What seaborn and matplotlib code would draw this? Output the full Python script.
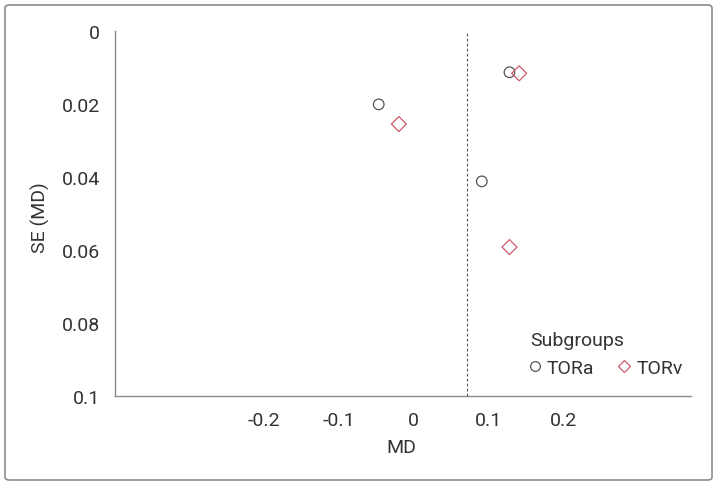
import matplotlib
matplotlib.use("Agg")
import matplotlib.pyplot as plt
from matplotlib.lines import Line2D
from matplotlib.patches import FancyBboxPatch
import seaborn as sns
import pandas as pd

groups = ["TORa", "TORa", "TORa", "TORv", "TORv", "TORv"]
md = [0.128, -0.047, 0.091, 0.141, -0.020, 0.128]
se = [0.0113, 0.0201, 0.0412, 0.0116, 0.0255, 0.0592]
pooled_md = 0.071
x_ticks = [-0.2, -0.1, 0, 0.1, 0.2]
x_tick_labels = ["-0.2", "-0.1", "0", "0.1", "0.2"]
y_ticks = [0, 0.02, 0.04, 0.06, 0.08, 0.1]
y_tick_labels = ["0", "0.02", "0.04", "0.06", "0.08", "0.1"]

df = pd.DataFrame({"MD": md, "SE": se, "Subgroups": groups})

sns.set_style("white")
plt.rcParams["font.family"] = ["Roboto", "DejaVu Sans"]
text_col = "#333333"
spine_col = "#8a8a8a"
colors = {"TORa": "#555555", "TORv": "#cc5a6a"}
markers = {"TORa": "o", "TORv": "D"}
FS = 14

fig = plt.figure(figsize=(7.17, 4.89), dpi=100)
ax = fig.add_axes([115/717, 1 - 397/489, (691-115)/717, (397-32)/489])

sns.scatterplot(data=df, x="MD", y="SE", hue="Subgroups", style="Subgroups",
                palette=colors, markers=markers, s=58, linewidth=0.9,
                legend=False, ax=ax)
for coll in ax.collections:
    fc = coll.get_facecolors()
    coll.set_edgecolors(fc)
    coll.set_facecolors("none")

ax.axvline(pooled_md, color="#555555", linestyle=(0, (2.5, 2)), linewidth=0.8)

ax.set_xlim(-0.4, 0.371)
ax.set_ylim(0.1, 0)
ax.set_xticks(x_ticks)
ax.set_xticklabels(x_tick_labels)
ax.set_yticks(y_ticks)
ax.set_yticklabels(y_tick_labels)
ax.tick_params(axis="both", direction="inout", length=6, width=0.8,
               color=spine_col, labelsize=FS, labelcolor=text_col, pad=8)
for side in ["top", "right"]:
    ax.spines[side].set_visible(False)
for side in ["left", "bottom"]:
    ax.spines[side].set_color(spine_col)
    ax.spines[side].set_linewidth(1.0)

ax.set_xlabel("MD", fontsize=FS, color=text_col)
ax.set_ylabel("SE (MD)", fontsize=FS, color=text_col)
ax.xaxis.set_label_coords((401-115)/(691-115), -(439-397)/365)
ax.yaxis.set_label_coords(-(115-50)/(691-115), (397-218)/365)

handles = [Line2D([], [], linestyle="none", marker=markers[g], markersize=7 if g == "TORa" else 6.5,
                  markerfacecolor="none", markeredgecolor=colors[g], markeredgewidth=0.9,
                  label=g) for g in ["TORa", "TORv"]]
leg = ax.legend(handles=handles, title="Subgroups", ncol=2, frameon=False,
                loc="upper left", bbox_to_anchor=((530-115)/(691-115), (397-332)/365),
                fontsize=FS, title_fontsize=FS, handletextpad=0.36,
                columnspacing=1.3, handlelength=0.5, borderaxespad=0, borderpad=0)
leg._legend_box.align = "left"
for t in leg.get_texts():
    t.set_color(text_col)
leg.get_title().set_color(text_col)

border = FancyBboxPatch((5/717, 8/489), 707/717, 475/489,
                        boxstyle="round,pad=0,rounding_size=0.006",
                        transform=fig.transFigure, fill=False,
                        edgecolor="#8c8c8c", linewidth=1.2)
fig.patches.append(border)

fig.savefig("out.png", dpi=100)
